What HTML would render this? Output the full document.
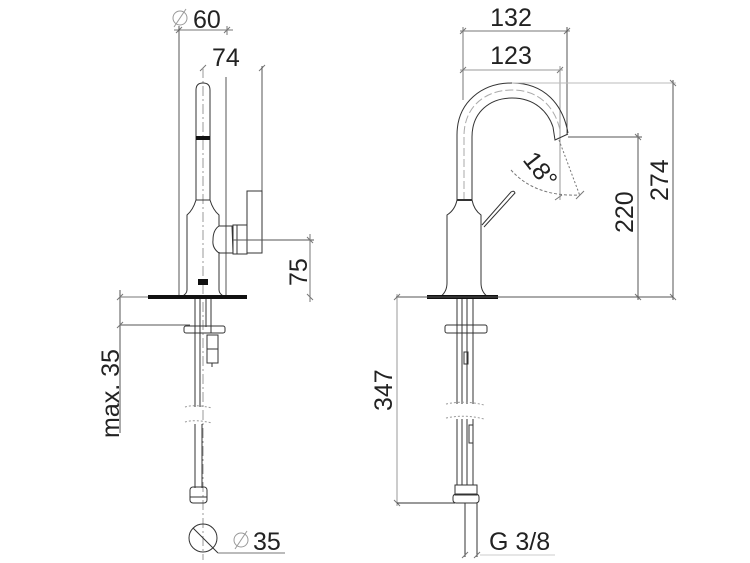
<!DOCTYPE html>
<html><head><meta charset="utf-8"><style>
html,body{margin:0;padding:0;background:#fff}
svg{display:block}
text{font-family:"Liberation Sans",sans-serif;fill:#222}
</style></head><body>
<svg width="750" height="563" viewBox="0 0 750 563" xmlns="http://www.w3.org/2000/svg">
<g fill="none" stroke="#333" stroke-width="1">
<!-- LEFT VIEW -->
<line x1="174" y1="30" x2="233" y2="30" stroke="#777"/>
<line x1="176" y1="33" x2="182" y2="27" stroke="#777"/><line x1="224" y1="33" x2="230" y2="27" stroke="#777"/>
<line x1="179" y1="26" x2="179" y2="297" stroke="#555"/>
<line x1="227" y1="26" x2="227" y2="35" stroke="#777"/>
<line x1="226" y1="77" x2="226" y2="297" stroke="#555"/>
<line x1="200" y1="71" x2="206" y2="65" stroke="#777"/>
<line x1="259" y1="71" x2="265" y2="65" stroke="#777"/>
<line x1="262" y1="66" x2="262" y2="191" stroke="#555"/>
<line x1="203" y1="68" x2="203" y2="560" stroke="#999" stroke-dasharray="10,3,2,3"/>
<path d="M196,200 L196,90 Q196,83 203,83 Q210,83 210,90 L210,200 Z"/>
<rect x="196" y="136" width="14" height="4" fill="#111" stroke="none"/>
<path d="M196,200 Q193,210 187,215 L187,290 Q187,294 181,297"/>
<path d="M210,200 Q213,210 219,215 L219,226"/>
<path d="M219,252 L219,290 Q219,294 225,297"/>
<rect x="198" y="279" width="10" height="6" fill="#111" stroke="none"/>
<path d="M219,226 L232,226 L233,253 L219,253 Q212,248 213,240 Q213,230 219,226"/>
<rect x="233" y="225" width="14" height="29"/>
<line x1="237" y1="225" x2="237" y2="254"/>
<rect x="247" y="191" width="15" height="62"/>
<rect x="148" y="295" width="99" height="4" fill="#111" stroke="none"/>
<line x1="233" y1="240" x2="314" y2="240" stroke="#555"/>
<line x1="310" y1="234" x2="310" y2="302" stroke="#777"/>
<line x1="307" y1="237" x2="313" y2="243" stroke="#777"/><line x1="307" y1="294" x2="313" y2="300" stroke="#777"/>
<line x1="120" y1="290" x2="120" y2="433" stroke="#555"/>
<line x1="120" y1="297" x2="148" y2="297" stroke="#777"/>
<line x1="117" y1="300" x2="123" y2="294" stroke="#777"/>
<line x1="120" y1="325" x2="190" y2="325" stroke="#555"/>
<line x1="117" y1="328" x2="123" y2="322" stroke="#777"/>
<line x1="195" y1="299" x2="195" y2="407"/><line x1="200" y1="299" x2="200" y2="407"/>
<line x1="206" y1="299" x2="206" y2="327"/><line x1="211" y1="299" x2="211" y2="333"/>
<rect x="184" y="326" width="41" height="7" rx="2"/>
<rect x="207" y="335" width="11" height="14"/>
<rect x="207" y="349" width="11" height="14"/>
<line x1="212" y1="363" x2="212" y2="367"/>
<path d="M185,407 Q195,404 212,408" stroke="#999" stroke-dasharray="2,2"/>
<path d="M185,422 Q195,419 212,423" stroke="#999" stroke-dasharray="2,2"/>
<line x1="195" y1="424" x2="195" y2="488"/><line x1="202" y1="424" x2="202" y2="488"/>
<rect x="190" y="487" width="17" height="16" rx="3"/>
<line x1="190" y1="497" x2="207" y2="497"/>
<circle cx="203" cy="538" r="14"/>
<line x1="193" y1="528" x2="218" y2="553"/>
<line x1="218" y1="553" x2="285" y2="553" stroke="#777"/>
<circle cx="241" cy="540" r="7" stroke="#999"/><line x1="235" y1="549" x2="247" y2="531" stroke="#999"/>
<circle cx="180" cy="18" r="7" stroke="#999"/><line x1="174" y1="27" x2="186" y2="9" stroke="#999"/>

<!-- RIGHT VIEW -->
<line x1="460" y1="31" x2="570" y2="31" stroke="#777"/>
<line x1="460" y1="34" x2="466" y2="28" stroke="#777"/><line x1="564" y1="34" x2="570" y2="28" stroke="#777"/>
<line x1="460" y1="70" x2="563" y2="70" stroke="#999"/>
<line x1="460" y1="73" x2="466" y2="67" stroke="#777"/><line x1="557" y1="73" x2="563" y2="67" stroke="#777"/>
<line x1="463" y1="27" x2="463" y2="100" stroke="#777"/>
<line x1="567" y1="27" x2="567" y2="135" stroke="#555"/>
<line x1="560" y1="66" x2="560" y2="200" stroke="#999"/>
<path d="M457,200 L457,135 C457,102 482,83 512,83 C545,83 563,105 568,133"/>
<path d="M472,200 L472,137 C472,112 490,98 512,98 C535,98 548,112 553,127"/>
<path d="M464,200 L464,136 C464,106 486,90 512,90 C540,90 555,108 560,130" stroke="#aaa" stroke-dasharray="8,3"/>
<path d="M553,127 L555,140 L568,134"/>
<line x1="457" y1="200" x2="472" y2="200" stroke-width="2"/>
<path d="M457,200 Q455,210 447,215 L447,283 Q447,292 440,297"/>
<path d="M472,200 Q474,210 481,215 L481,283 Q481,292 488,297"/>
<rect x="427" y="295" width="71" height="4" fill="#111" stroke="none"/>
<path d="M482,225 L511,192 Q514,190 515,193 L484,227"/>
<line x1="559" y1="140" x2="580" y2="196" stroke="#777" stroke-dasharray="2,2"/>
<path d="M511,170 Q535,197 580,195" stroke="#777" stroke-dasharray="3,2"/>
<line x1="555" y1="200" x2="562" y2="195" stroke="#777"/>
<line x1="576" y1="199" x2="584" y2="191" stroke="#777"/>
<line x1="568" y1="137" x2="642" y2="137" stroke="#555"/>
<line x1="638" y1="133" x2="638" y2="300" stroke="#555"/>
<line x1="635" y1="134" x2="641" y2="140" stroke="#777"/><line x1="635" y1="294" x2="641" y2="300" stroke="#777"/>
<line x1="512" y1="83" x2="676" y2="83" stroke="#bbb"/>
<line x1="673" y1="80" x2="673" y2="300" stroke="#555"/>
<line x1="670" y1="80" x2="676" y2="86" stroke="#777"/><line x1="670" y1="294" x2="676" y2="300" stroke="#777"/>
<line x1="396" y1="297" x2="673" y2="297" stroke="#555"/>
<line x1="397" y1="294" x2="397" y2="506" stroke="#999"/>
<line x1="394" y1="300" x2="400" y2="294" stroke="#777"/><line x1="394" y1="500" x2="400" y2="506" stroke="#777"/>
<line x1="397" y1="503" x2="455" y2="503"/>
<line x1="457" y1="299" x2="457" y2="404"/><line x1="462" y1="299" x2="462" y2="404"/>
<line x1="467" y1="299" x2="467" y2="404"/><line x1="473" y1="299" x2="473" y2="404"/>
<rect x="445" y="325" width="42" height="8" rx="2"/>
<rect x="464" y="352" width="4" height="12"/>
<path d="M446,404 Q465,400 484,405" stroke="#999" stroke-dasharray="2,2"/>
<path d="M446,418 Q465,414 484,419" stroke="#999" stroke-dasharray="2,2"/>
<line x1="457" y1="419" x2="457" y2="485"/><line x1="462" y1="419" x2="462" y2="485"/>
<line x1="467" y1="419" x2="467" y2="485"/><line x1="473" y1="419" x2="473" y2="485"/>
<rect x="469" y="425" width="4" height="18"/>
<rect x="455" y="485" width="22" height="10"/>
<rect x="453" y="494" width="26" height="9" rx="3"/>
<line x1="465" y1="503" x2="465" y2="557"/><line x1="477" y1="503" x2="477" y2="557"/>
<line x1="462" y1="558" x2="468" y2="552" stroke="#777"/><line x1="474" y1="558" x2="480" y2="552" stroke="#777"/>
<line x1="480" y1="555" x2="555" y2="555" stroke="#ccc"/>
</g>
<text x="193" y="28" font-size="25">60</text>
<text x="212" y="66" font-size="25">74</text>
<text x="253" y="550" font-size="25">35</text>
<text x="511" y="26" font-size="25" text-anchor="middle">132</text>
<text x="511" y="64" font-size="25" text-anchor="middle">123</text>
<text x="489" y="550" font-size="25">G 3/8</text>
<text font-size="25" transform="translate(307,286) rotate(-90)">75</text>
<text font-size="25" transform="translate(119,438) rotate(-90)">max. 35</text>
<text font-size="25" transform="translate(392,411) rotate(-90)">347</text>
<text font-size="25" transform="translate(633,233) rotate(-90)">220</text>
<text font-size="25" transform="translate(668,201) rotate(-90)">274</text>
<text font-size="25" transform="translate(522,160) rotate(52)">18°</text>
</svg>
</body></html>
